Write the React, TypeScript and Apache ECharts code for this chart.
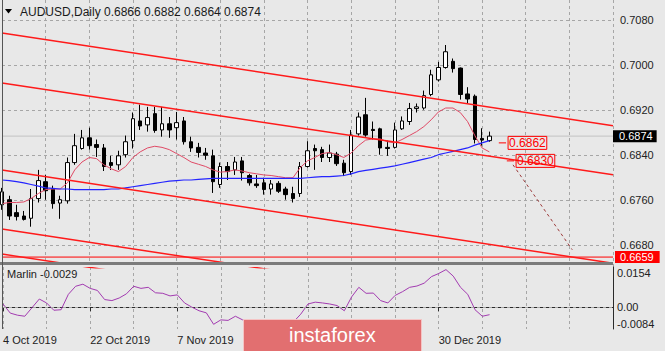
import React, { useEffect, useRef } from "react";
import * as echarts from "echarts";

// ---------- data ----------
const SYMBOL = "AUDUSD,Daily";
const MONTHS = ["Jan", "Feb", "Mar", "Apr", "May", "Jun", "Jul", "Aug", "Sep", "Oct", "Nov", "Dec"];
const HOLIDAYS = ["2019-12-25", "2020-01-01"];
const CATEGORY_COUNT = 85; // bars visible incl. empty space on the right
const shownDateLabels = ["4 Oct 2019", "22 Oct 2019", "7 Nov 2019", "30 Dec 2019"];

const opens = [0.6752, 0.6761, 0.6738, 0.6732, 0.6728, 0.6763, 0.6793, 0.6780, 0.6755, 0.6759, 0.6827, 0.6852, 0.6871, 0.6859, 0.6853, 0.6827, 0.6823, 0.6841, 0.6866, 0.6901, 0.6894, 0.6914, 0.6885, 0.6896, 0.6889, 0.6901, 0.6864, 0.6854, 0.6844, 0.6839, 0.6788, 0.6820, 0.6814, 0.6830, 0.6804, 0.6789, 0.6791, 0.6780, 0.6790, 0.6780, 0.6772, 0.6772, 0.6820, 0.6852, 0.6850, 0.6836, 0.6842, 0.6826, 0.6811, 0.6878, 0.6912, 0.6886, 0.6887, 0.6854, 0.6854, 0.6887, 0.6900, 0.6923, 0.6924, 0.6948, 0.6974, 0.6996, 0.7007, 0.6995, 0.6949, 0.6945, 0.6870, 0.6866];
const closes = [0.6775, 0.6732, 0.6731, 0.6726, 0.6763, 0.6795, 0.6777, 0.6754, 0.6761, 0.6827, 0.6857, 0.6871, 0.6857, 0.6854, 0.6820, 0.6822, 0.6839, 0.6864, 0.6905, 0.6892, 0.6907, 0.6884, 0.6896, 0.6885, 0.6898, 0.6864, 0.6853, 0.6845, 0.6840, 0.6793, 0.6820, 0.6811, 0.6828, 0.6809, 0.6791, 0.6786, 0.6779, 0.6789, 0.6776, 0.6770, 0.6763, 0.6820, 0.6848, 0.6848, 0.6836, 0.6844, 0.6825, 0.6809, 0.6876, 0.6908, 0.6876, 0.6884, 0.6853, 0.6852, 0.6885, 0.6901, 0.6923, 0.6926, 0.6946, 0.6983, 0.6996, 0.7024, 0.6994, 0.6948, 0.6940, 0.6868, 0.6867, 0.6874];
const lows = [0.6743, 0.6725, 0.6724, 0.6724, 0.6713, 0.6756, 0.6761, 0.6745, 0.6727, 0.6754, 0.6823, 0.6850, 0.6850, 0.6837, 0.6812, 0.6814, 0.6814, 0.6836, 0.6852, 0.6885, 0.6882, 0.6880, 0.6873, 0.6871, 0.6868, 0.6859, 0.6846, 0.6836, 0.6832, 0.6773, 0.6782, 0.6796, 0.6805, 0.6795, 0.6786, 0.6782, 0.6770, 0.6770, 0.6773, 0.6761, 0.6756, 0.6766, 0.6818, 0.6814, 0.6828, 0.6828, 0.6821, 0.6803, 0.6805, 0.6875, 0.6873, 0.6868, 0.6841, 0.6839, 0.6852, 0.6885, 0.6894, 0.6916, 0.6921, 0.6945, 0.6971, 0.6994, 0.6987, 0.6939, 0.6932, 0.6861, 0.6857, 0.6864];
const highs = [0.6782, 0.6768, 0.6752, 0.6741, 0.6780, 0.6814, 0.6805, 0.6786, 0.6768, 0.6836, 0.6878, 0.6885, 0.6889, 0.6868, 0.6860, 0.6839, 0.6848, 0.6875, 0.6916, 0.6930, 0.6926, 0.6926, 0.6926, 0.6908, 0.6917, 0.6908, 0.6873, 0.6862, 0.6853, 0.6850, 0.6827, 0.6828, 0.6837, 0.6837, 0.6807, 0.6805, 0.6800, 0.6796, 0.6794, 0.6784, 0.6784, 0.6828, 0.6865, 0.6859, 0.6855, 0.6859, 0.6846, 0.6832, 0.6885, 0.6916, 0.6942, 0.6900, 0.6889, 0.6866, 0.6898, 0.6909, 0.6933, 0.6932, 0.6955, 0.6992, 0.7006, 0.7036, 0.7012, 0.6996, 0.6961, 0.6948, 0.6888, 0.6882];

const redMa = [0.6754, 0.6756, 0.6756, 0.6757, 0.6763, 0.6772, 0.6779, 0.6780, 0.6780, 0.6791, 0.6814, 0.6828, 0.6836, 0.6834, 0.6823, 0.6816, 0.6811, 0.6820, 0.6836, 0.6846, 0.6853, 0.6856, 0.6854, 0.6850, 0.6843, 0.6836, 0.6828, 0.6824, 0.6820, 0.6814, 0.6810, 0.6811, 0.6814, 0.6812, 0.6809, 0.6807, 0.6805, 0.6804, 0.6802, 0.6800, 0.6800, 0.6818, 0.6830, 0.6836, 0.6843, 0.6845, 0.6841, 0.6836, 0.6844, 0.6857, 0.6867, 0.6869, 0.6869, 0.6864, 0.6862, 0.6868, 0.6875, 0.6882, 0.6891, 0.6903, 0.6917, 0.6924, 0.6924, 0.6916, 0.6900, 0.6875, 0.6853, 0.6846];
const blueMa = [0.6796, 0.6795, 0.6793, 0.6791, 0.6788, 0.6785, 0.6782, 0.6781, 0.6780, 0.6780, 0.6779, 0.6779, 0.6779, 0.6779, 0.6779, 0.6780, 0.6780, 0.6782, 0.6784, 0.6786, 0.6788, 0.6790, 0.6792, 0.6794, 0.6795, 0.6796, 0.6796, 0.6797, 0.6798, 0.6799, 0.6799, 0.6799, 0.6799, 0.6799, 0.6799, 0.6799, 0.6799, 0.6799, 0.6799, 0.6799, 0.6799, 0.6799, 0.6800, 0.6801, 0.6802, 0.6802, 0.6803, 0.6804, 0.6807, 0.6811, 0.6813, 0.6815, 0.6817, 0.6819, 0.6821, 0.6824, 0.6827, 0.6830, 0.6833, 0.6836, 0.6841, 0.6844, 0.6847, 0.6850, 0.6853, 0.6858, 0.6862, 0.6866];

const marlin = [0.0012, -0.0023, -0.0031, -0.0035, -0.0002, 0.0031, 0.0016, -0.0012, -0.0010, 0.0049, 0.0080, 0.0088, 0.0072, 0.0064, 0.0029, 0.0025, 0.0035, 0.0051, 0.0080, 0.0072, 0.0076, 0.0055, 0.0053, 0.0043, 0.0047, 0.0016, 0.0000, -0.0014, -0.0022, -0.0066, -0.0049, -0.0051, -0.0035, -0.0049, -0.0064, -0.0072, -0.0068, -0.0076, -0.0068, -0.0061, -0.0057, -0.0027, 0.0012, 0.0019, 0.0016, 0.0012, 0.0006, -0.0014, 0.0039, 0.0076, 0.0053, 0.0054, 0.0025, 0.0016, 0.0045, 0.0059, 0.0076, 0.0081, 0.0092, 0.0117, 0.0129, 0.0144, 0.0119, 0.0076, 0.0049, -0.0010, -0.0035, -0.0029];

// channel / trend lines: [barIndexStart, priceStart, barIndexEnd, priceEnd]
const channelLines = [
  [0, 0.70572, 84, 0.68924],
  [0, 0.69683, 84, 0.68053],
  [0, 0.68136, 84, 0.66480],
  [0, 0.67088, 84, 0.65440],
  [0, 0.66643, 84, 0.65000],
];
const projectionLine = [70.25, 0.6823, 78.4, 0.6672];
const supportLevel = 0.6659;
const annotations = [
  { price: 0.6862, from: 68.3, to: 69.3 },
  { price: 0.6830, from: 69.4, to: 70.4 },
];

// ---------- helpers ----------
function buildTradingDates(): string[] {
  const out: string[] = [];
  const d = new Date(Date.UTC(2019, 9, 4));
  while (out.length < CATEGORY_COUNT) {
    const dow = d.getUTCDay();
    const iso = d.toISOString().slice(0, 10);
    if (dow !== 0 && dow !== 6 && !HOLIDAYS.includes(iso)) {
      out.push(`${d.getUTCDate()} ${MONTHS[d.getUTCMonth()]} ${d.getUTCFullYear()}`);
    }
    d.setUTCDate(d.getUTCDate() + 1);
  }
  return out;
}

const BG = "#e8e8e8";
const GRID = "#a6a6a6";
const AXIS = "#2a2a2a";
const FONT = "Liberation Sans";

function levelSeries(value: number, lineColor: string, labelBg: string, padding: number[], distance: number, z: number) {
  return {
    type: "line",
    xAxisIndex: 1,
    yAxisIndex: 0,
    data: [
      [0, value],
      [CATEGORY_COUNT - 1, value],
    ],
    symbol: "none",
    z,
    lineStyle: { color: lineColor, width: 1 },
    endLabel: {
      show: true,
      formatter: value.toFixed(4),
      color: "#ffffff",
      backgroundColor: labelBg,
      padding,
      fontSize: 11,
      fontFamily: FONT,
      distance,
    },
  };
}

export default function App() {
  const ref = useRef<HTMLDivElement>(null);

  useEffect(() => {
    if (!ref.current) return;
    const chart = echarts.init(ref.current, undefined, { renderer: "svg" });
    const dates = buildTradingDates();
    const candles = opens.map((o, i) => [o, closes[i], lows[i], highs[i]]);
    const last = candles.length - 1;
    const title = `${SYMBOL} ${opens[last].toFixed(4)} ${highs[last].toFixed(4)} ${lows[last].toFixed(4)} ${closes[last].toFixed(4)}`;
    const lastClose = closes[last];

    const series: any[] = [
      levelSeries(lastClose, "#c2c2c2", "#000000", [1, 4, 0, 6], 0, 1),
      levelSeries(supportLevel, "#ff0000", "#ff0000", [1, 6, 0, 5], 2, 3),
      {
        type: "candlestick",
        xAxisIndex: 0,
        yAxisIndex: 0,
        data: candles,
        barWidth: 4,
        clip: false,
        itemStyle: {
          color: "#ffffff",
          color0: "#000000",
          borderColor: "#000000",
          borderColor0: "#000000",
          borderWidth: 1,
        },
      },
      {
        type: "line",
        xAxisIndex: 0,
        yAxisIndex: 0,
        data: redMa,
        symbol: "none",
        lineStyle: { color: "#e04a66", width: 1 },
      },
      {
        type: "line",
        xAxisIndex: 0,
        yAxisIndex: 0,
        data: blueMa,
        symbol: "none",
        lineStyle: { color: "#2424ff", width: 1.2 },
      },
    ];

    channelLines.forEach((l) => {
      series.push({
        type: "line",
        xAxisIndex: 1,
        yAxisIndex: 0,
        data: [
          [l[0], l[1]],
          [l[2], l[3]],
        ],
        symbol: "none",
        lineStyle: { color: "#ff1a1a", width: 1.5 },
      });
    });

    series.push({
      type: "line",
      xAxisIndex: 1,
      yAxisIndex: 0,
      data: [
        [projectionLine[0], projectionLine[1]],
        [projectionLine[2], projectionLine[3]],
      ],
      symbol: "none",
      lineStyle: { color: "#9c3a3a", width: 1, type: [3, 3] },
    });

    annotations.forEach((a) => {
      series.push({
        type: "line",
        xAxisIndex: 1,
        yAxisIndex: 0,
        data: [
          [a.from, a.price],
          [a.to, a.price],
        ],
        symbol: "none",
        lineStyle: { color: "#ff0000", width: 1 },
        endLabel: {
          show: true,
          formatter: a.price.toFixed(4),
          color: "#ff0000",
          fontSize: 12,
          fontFamily: FONT,
          borderColor: "#ff0000",
          borderWidth: 1,
          padding: [1, 1, 0, 1],
          distance: 2,
        },
      });
    });

    series.push({
      type: "line",
      xAxisIndex: 2,
      yAxisIndex: 1,
      data: marlin,
      symbol: "none",
      lineStyle: { color: "#a23bb0", width: 1 },
      markLine: {
        symbol: ["none", "none"],
        silent: true,
        animation: false,
        label: { show: false },
        lineStyle: { color: GRID, type: [3, 3], width: 1 },
        data: [{ yAxis: 0 }],
      },
    });

    const isShown = (_i: number, v: string) => shownDateLabels.includes(v);

    const option: any = {
      animation: false,
      backgroundColor: BG,
      textStyle: { fontFamily: FONT },
      grid: [
        { left: 2, top: 0, width: 611, height: 267.75 },
        { left: 2, top: 267, width: 611, height: 62 },
      ],
      xAxis: [
        {
          type: "category",
          gridIndex: 0,
          data: dates,
          boundaryGap: false,
          axisLine: { show: false },
          axisTick: { show: false },
          axisLabel: { show: false },
          splitLine: { show: true, interval: 5, lineStyle: { color: GRID, type: [3, 3], width: 1 } },
        },
        {
          type: "value",
          gridIndex: 0,
          min: 0,
          max: CATEGORY_COUNT - 1,
          show: false,
          splitLine: { show: false },
        },
        {
          type: "category",
          gridIndex: 1,
          data: dates,
          boundaryGap: false,
          axisLine: { show: true, lineStyle: { color: AXIS, width: 1 } },
          axisTick: { show: true, interval: isShown, length: 4, lineStyle: { color: AXIS } },
          axisLabel: {
            interval: isShown,
            align: "left",
            margin: 5,
            color: "#222",
            fontSize: 11,
            fontFamily: FONT,
          },
          splitLine: { show: true, interval: 5, lineStyle: { color: GRID, type: [3, 3], width: 1 } },
        },
      ],
      yAxis: [
        {
          type: "value",
          gridIndex: 0,
          position: "right",
          min: 0.664,
          max: 0.7116,
          interval: 0.004,
          axisLine: { show: true, lineStyle: { color: AXIS, width: 1 } },
          axisTick: { show: false },
          axisLabel: {
            margin: 7,
            color: "#222",
            fontSize: 11,
            fontFamily: FONT,
            formatter: (v: number) => {
              const k = Math.round(v / 0.004);
              if (Math.abs(v - k * 0.004) > 1e-7) return "";
              return k % 2 === 1 ? v.toFixed(4) : "";
            },
          },
          splitLine: {
            show: true,
            lineStyle: { color: ["rgba(0,0,0,0)", GRID], type: [3, 3], width: 1 },
          },
        },
        {
          type: "value",
          gridIndex: 1,
          position: "right",
          min: -0.0084,
          max: 0.0154,
          interval: 0.0084,
          axisLine: { show: true, lineStyle: { color: AXIS, width: 1 } },
          axisTick: { show: false },
          axisLabel: {
            margin: 4,
            color: "#222",
            fontSize: 11,
            fontFamily: FONT,
            verticalAlignMaxLabel: "top",
            verticalAlignMinLabel: "bottom",
            formatter: (v: number) => {
              if (Math.abs(v) < 1e-9) return "0.00";
              if (Math.abs(v - 0.0084) < 1e-9) return "";
              return v.toFixed(4);
            },
          },
          splitLine: { show: false },
        },
      ],
      series,
      graphic: [
        {
          type: "polygon",
          shape: { points: [[5, 9], [12, 9], [8.5, 13.5]] },
          style: { fill: "#000" },
          z: 20,
        },
        {
          type: "text",
          x: 20,
          y: 12,
          style: { text: title, fill: "#1a1a1a", fontSize: 12, fontFamily: FONT, verticalAlign: "middle" },
          z: 20,
        },
        {
          type: "rect",
          shape: { x: 0, y: 262, width: 613, height: 3 },
          style: { fill: "#7b7b7b" },
          z: 10,
        },
        {
          type: "rect",
          shape: { x: 0, y: 265, width: 613, height: 2 },
          style: { fill: BG },
          z: 10,
        },
        {
          type: "line",
          shape: { x1: 2.5, y1: 0, x2: 2.5, y2: 329 },
          style: { stroke: "#555", lineWidth: 1 },
          z: 11,
        },
        {
          type: "text",
          x: 7,
          y: 274,
          style: {
            text: `Marlin ${marlin[marlin.length - 1].toFixed(4)}`,
            fill: "#1a1a1a",
            fontSize: 11,
            fontFamily: FONT,
            verticalAlign: "middle",
          },
          z: 20,
        },
        {
          type: "group",
          z: 100,
          children: [
            {
              type: "rect",
              shape: { x: 243.5, y: 319.5, width: 178, height: 34 },
              style: { fill: "#e26f70", stroke: "#f5c4c4", lineWidth: 1 },
              z: 100,
            },
            {
              type: "text",
              x: 289,
              y: 335,
              style: { text: "instaforex", fill: "#ffffff", fontSize: 20, fontFamily: FONT, verticalAlign: "middle" },
              z: 101,
            },
          ],
        },
      ],
    };

    chart.setOption(option);
    return () => chart.dispose();
  }, []);

  return (
    <div
      ref={ref}
      style={{ position: "fixed", left: 0, top: 0, width: 665, height: 351, background: BG }}
    />
  );
}
